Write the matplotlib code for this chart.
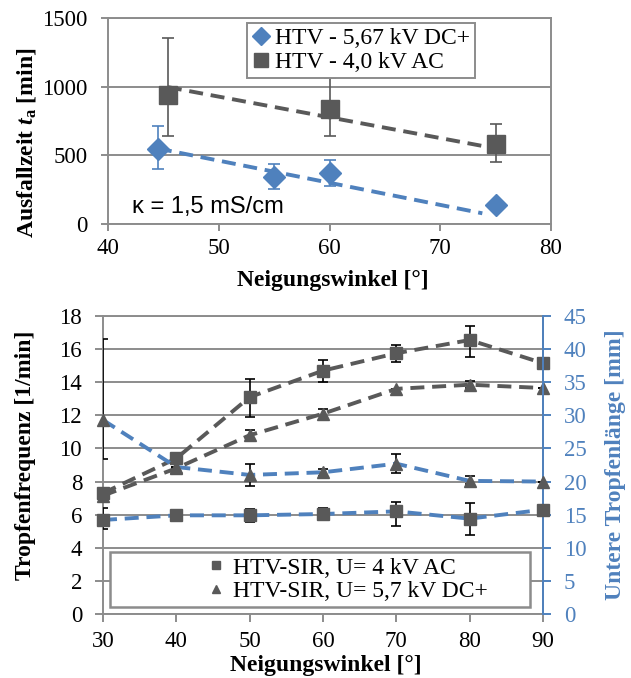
import numpy as np
import matplotlib
matplotlib.use("Agg")
import matplotlib.pyplot as plt
from matplotlib.lines import Line2D
from matplotlib.patches import Rectangle

plt.rcParams['font.family'] = ['Liberation Serif', 'DejaVu Serif']
plt.rcParams['mathtext.fontset'] = 'custom'
plt.rcParams['mathtext.rm'] = 'Liberation Serif'
plt.rcParams['mathtext.it'] = 'Liberation Serif:italic'
plt.rcParams['mathtext.bf'] = 'Liberation Serif:bold'
plt.rcParams['mathtext.bfit'] = 'Liberation Serif:italic:bold'

#### data, top chart (Ausfallzeit) ##################
dc_x = [44.5, 55, 60, 75]
dc_t = [545, 345, 370, 140]
dc_lo = [144, 90, 93, 30]
dc_hi = [172, 93, 97, 30]
dc_trend_x = [44.5, 73.8]
dc_trend_y = [550, 78]

ac_x = [45.4, 60, 75]
ac_t = [936, 836, 581]
ac_lo = [294, 194, 126]
ac_hi = [416, 224, 146]
ac_trend_x = [45.4, 74.9]
ac_trend_y = [997, 552]

#### data, bottom chart (Tropfen) ###################
angles = [30, 40, 50, 60, 70, 80, 90]
freq_ac = [7.3, 9.4, 13.1, 14.7, 15.75, 16.55, 15.15]
freq_ac_lo = [0, 0, 1.2, 0.7, 0.5, 1.0, 0]
freq_ac_hi = [0, 0, 1.1, 0.67, 0.5, 0.87, 0]
freq_dc = [7.15, 8.8, 10.8, 12.1, 13.6, 13.85, 13.65]
freq_dc_lo = [0, 0, 0.3, 0.3, 0, 0.2, 0]
freq_dc_hi = [0, 0, 0.3, 0.3, 0, 0.2, 0]
len_ac = [14.2, 14.9, 14.9, 15.1, 15.5, 14.4, 15.75]      # mm
len_ac_lo = [1.4, 0, 1.0, 0.85, 2.15, 2.4, 0]
len_ac_hi = [1.8, 0, 1.0, 0.85, 1.4, 2.4, 0]
len_dc = [29.3, 22.2, 21.0, 21.4, 22.7, 20.1, 20.0]      # mm
len_dc_lo = [5.9, 0, 1.6, 0.5, 1.4, 0.4, 0]
len_dc_hi = [12.3, 0, 1.6, 0.5, 1.4, 0.75, 0]

gray = '#595959'
blue = '#4f81bd'
axgray = '#8c8c8c'
fs_tick = 16.5
fs = 17
dash = (3.6, 2.0)

fig = plt.figure(figsize=(6.31, 6.78), dpi=100)

# ---------------- top chart ----------------
ax1 = fig.add_axes([0.1712, 0.6696, 0.702, 0.3038])
ax1.set_xlim(40, 80)
ax1.set_ylim(0, 1500)
ax1.set_xticks([40, 50, 60, 70, 80])
ax1.set_yticks([0, 500, 1000, 1500])
ax1.yaxis.grid(True, color=axgray, lw=1.4)
ax1.set_axisbelow(True)
for sp in ax1.spines.values():
    sp.set_color(axgray)
    sp.set_linewidth(1.4)
ax1.tick_params(axis='both', colors=axgray, labelcolor='black', labelsize=fs_tick,
                length=5, width=1.4, direction='out')
ax1.tick_params(axis='y', pad=10)
ax1.tick_params(axis='x', pad=5)

ax1.plot(ac_trend_x, ac_trend_y, color=gray, lw=2.8, dashes=dash, zorder=3)
ax1.plot(dc_trend_x, dc_trend_y, color=blue, lw=2.8, dashes=dash, zorder=3)
ax1.errorbar(ac_x, ac_t, yerr=[ac_lo, ac_hi], fmt='none', ecolor=gray, elinewidth=1.2,
             capsize=4, capthick=1.2, zorder=2)
ax1.errorbar(dc_x, dc_t, yerr=[dc_lo, dc_hi], fmt='none', ecolor=blue, elinewidth=1.2,
             capsize=4, capthick=1.2, zorder=2)
ax1.plot(ac_x, ac_t, 's', color=gray, ms=12.5, zorder=4)
ax1.plot(dc_x, dc_t, 'D', color=blue, ms=11, zorder=4)

ax1.text(42.2, 125, u'\u03ba = 1,5 mS/cm', fontsize=17, family=['Liberation Sans', 'DejaVu Sans'],
         ha='left', va='center')

h1 = [Line2D([], [], marker='D', color=blue, ls='none', ms=9.5),
      Line2D([], [], marker='s', color=gray, ls='none', ms=10)]
leg1 = ax1.legend(h1, ['HTV - 5,67 kV DC+', 'HTV - 4,0 kV AC'], loc='upper left',
                  bbox_to_anchor=(0.314, 0.976), borderaxespad=0, fontsize=fs,
                  fancybox=False, framealpha=1, edgecolor=axgray, handlelength=0.8,
                  handletextpad=0.2, labelspacing=0.1, borderpad=0.2)
leg1.get_frame().set_linewidth(1.4)

fig.text(0.528, 0.587, u'Neigungswinkel [\u00b0]', fontsize=fs, fontweight='bold',
         ha='center', va='center')
fig.text(0.042, 0.789, r'Ausfallzeit $\mathbfit{t}_{\mathbf{a}}$ [min]', fontsize=fs,
         fontweight='bold', rotation=90, ha='center', va='center')

# ---------------- bottom chart ----------------
ax2 = fig.add_axes([0.1632, 0.0944, 0.6973, 0.4395])
ax2.set_xlim(30, 90)
ax2.set_ylim(0, 18)
ax2.set_xticks(angles)
ax2.set_yticks(np.arange(0, 19, 2))
ax2.yaxis.grid(True, color=axgray, lw=1.4)
ax2.set_axisbelow(True)
for sp in ax2.spines.values():
    sp.set_color(axgray)
    sp.set_linewidth(1.4)
ax2.tick_params(axis='both', colors=axgray, labelcolor='black', labelsize=fs_tick,
                length=6, width=1.4, direction='out')
ax2.tick_params(axis='y', pad=9)
ax2.tick_params(axis='x', pad=6)

ax2r = ax2.twinx()
ax2r.set_ylim(0, 45)
ax2r.set_yticks(np.arange(0, 46, 5))
for sp in ax2r.spines.values():
    sp.set_visible(False)
ax2r.spines['right'].set_visible(True)
ax2r.spines['right'].set_color(blue)
ax2r.spines['right'].set_linewidth(1.4)
ax2r.tick_params(axis='y', colors=blue, labelcolor=blue, labelsize=fs_tick,
                 length=6, width=1.4, direction='out', pad=9)

ax2.errorbar(angles, freq_ac, yerr=[freq_ac_lo, freq_ac_hi], fmt='none', ecolor='black',
             elinewidth=1.2, capsize=3.5, capthick=1.2, zorder=2)
ax2.errorbar(angles, freq_dc, yerr=[freq_dc_lo, freq_dc_hi], fmt='none', ecolor='black',
             elinewidth=1.2, capsize=3.5, capthick=1.2, zorder=2)
ax2.plot(angles, freq_ac, color=gray, lw=2.8, dashes=dash, zorder=3)
ax2.plot(angles, freq_dc, color=gray, lw=2.8, dashes=dash, zorder=3)
ax2.plot(angles, freq_ac, 's', color=gray, ms=8.5, zorder=4, clip_on=False)
ax2.plot(angles, freq_dc, '^', color=gray, ms=9, zorder=4, clip_on=False)

ax2r.errorbar(angles, len_ac, yerr=[len_ac_lo, len_ac_hi], fmt='none', ecolor='black',
              elinewidth=1.2, capsize=3.5, capthick=1.2, zorder=2)
ax2r.errorbar(angles, len_dc, yerr=[len_dc_lo, len_dc_hi], fmt='none', ecolor='black',
              elinewidth=1.2, capsize=3.5, capthick=1.2, zorder=2)
ax2r.plot(angles, len_ac, color=blue, lw=2.8, dashes=dash, zorder=3)
ax2r.plot(angles, len_dc, color=blue, lw=2.8, dashes=dash, zorder=3)
ax2r.plot(angles, len_ac, 's', color=gray, ms=8.5, zorder=4, clip_on=False)
ax2r.plot(angles, len_dc, '^', color=gray, ms=9, zorder=4, clip_on=False)

box = Rectangle((0.016, 0.023), 0.954, 0.185, transform=ax2r.transAxes, facecolor='white',
                edgecolor=axgray, lw=1.8, zorder=5)
ax2r.add_patch(box)
h2 = [Line2D([], [], marker='s', color=gray, ls='none', ms=6),
      Line2D([], [], marker='^', color=gray, ls='none', ms=5.5)]
leg2 = ax2r.legend(h2, ['HTV-SIR, U= 4 kV AC', 'HTV-SIR, U= 5,7 kV DC+'], loc='center',
                   bbox_to_anchor=(0.555, 0.115), frameon=False, fontsize=fs,
                   handlelength=0.8, handletextpad=0.3, labelspacing=0.1, borderpad=0.1)
leg2.set_zorder(6)

fig.text(0.517, 0.019, u'Neigungswinkel [\u00b0]', fontsize=fs, fontweight='bold',
         ha='center', va='center')
fig.text(0.041, 0.329, 'Tropfenfrequenz [1/min]', fontsize=fs, fontweight='bold',
         rotation=90, ha='center', va='center')
fig.text(0.976, 0.314, u'Untere Tropfenl\u00e4nge [mm]', fontsize=fs, fontweight='bold',
         color=blue, rotation=90, ha='center', va='center')

fig.savefig('out.png', dpi=100)
